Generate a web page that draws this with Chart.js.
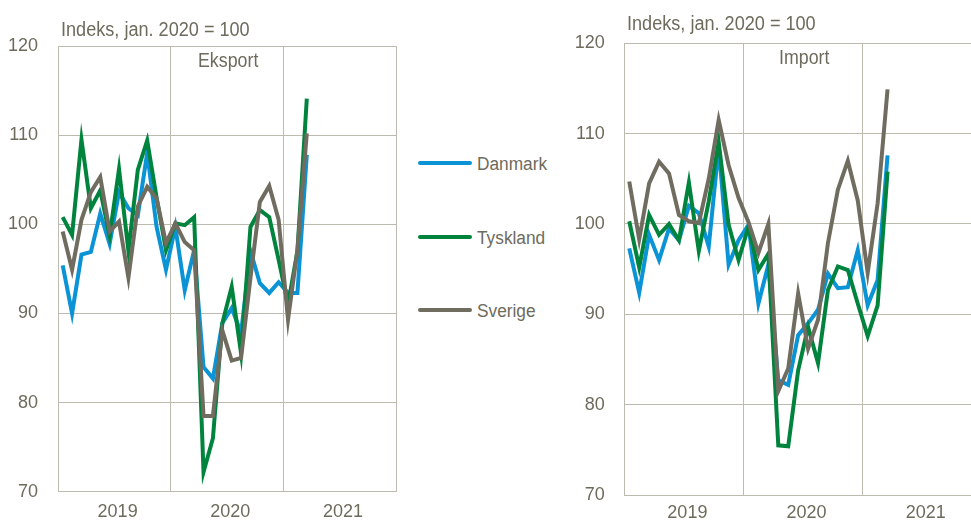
<!DOCTYPE html>
<html>
<head>
    <title>Eksport og import</title>
    <script src="https://cdn.jsdelivr.net/npm/chart.js"></script>
    <style>
        body {
            margin: 0;
            padding: 0;
            background-color: #fff;
            width: 971px;
            height: 522px;
            overflow: hidden;
            position: relative;
            font-family: 'Liberation Sans', Arial, sans-serif;
            color: #6e6b5d;
        }

        .panel {
            position: absolute;
            top: 0;
            height: 522px;
        }

        .txt {
            position: absolute;
            white-space: nowrap;
            font-size: 20px;
            line-height: 1;
            transform: scaleX(0.89);
            transform-origin: 0 0;
        }

        .leg-line {
            position: absolute;
            left: 418px;
            width: 54px;
            height: 4px;
            border-radius: 2px;
        }

        .leg-txt {
            position: absolute;
            left: 477px;
            font-size: 18px;
            line-height: 1;
            white-space: nowrap;
            transform: scaleX(0.96);
            transform-origin: 0 0;
        }
    </style>
</head>
<body>
    <div class="panel" style="left:0; width:400px;"><canvas id="eksportChart"></canvas></div>
    <div class="panel" style="left:560px; width:411px;"><canvas id="importChart"></canvas></div>

    <div class="txt" style="left:61px; top:18.8px; transform: scaleX(0.905);">Indeks, jan. 2020 = 100</div>
    <div class="txt" style="left:198px; top:49.8px;">Eksport</div>
    <div class="txt" style="left:627px; top:13.1px; transform: scaleX(0.905);">Indeks, jan. 2020 = 100</div>
    <div class="txt" style="left:779px; top:47.1px;">Import</div>

    <div id="legend"></div>

    <script>
        // maaneder jan. 2019 - mar. 2021
        var maaneder = ['2019-01', '2019-02', '2019-03', '2019-04', '2019-05', '2019-06', '2019-07', '2019-08', '2019-09',
            '2019-10', '2019-11', '2019-12', '2020-01', '2020-02', '2020-03', '2020-04', '2020-05', '2020-06',
            '2020-07', '2020-08', '2020-09', '2020-10', '2020-11', '2020-12', '2021-01', '2021-02', '2021-03'];
        var aar = ['2019', '2020', '2021'];
        var yTicks = [70, 80, 90, 100, 110, 120];

        var eksportDanmark = [95.4, 90.0, 96.6, 96.9, 101.2, 97.8, 103.6, 101.8, 101.0, 108.0, 99.7, 94.9, 99.7, 92.6,
            97.1, 84.0, 82.7, 88.9, 90.6, 87.8, 97.0, 93.4, 92.3, 93.5, 92.3, 92.3, 107.8];
        var eksportTyskland = [100.8, 98.8, 109.5, 101.8, 103.8, 98.7, 106.2, 97.0, 106.1, 109.4, 103.0, 97.1, 100.1, 99.9,
            100.8, 72.2, 76.0, 88.9, 93.0, 85.5, 99.7, 101.6, 100.8, 96.0, 91.0, 97.0, 114.1];
        var eksportSverige = [99.2, 94.9, 100.5, 103.6, 105.3, 99.2, 100.3, 94.0, 102.0, 104.2, 102.9, 97.9, 100.1, 98.0,
            97.1, 78.5, 78.5, 88.1, 84.7, 85.0, 94.0, 102.5, 104.3, 100.5, 89.3, 97.1, 110.2];

        var importDanmark = [97.3, 92.4, 98.8, 96.0, 99.5, 98.2, 102.0, 101.2, 97.5, 108.5, 95.5, 98.2, 99.9, 91.2,
            95.5, 82.7, 82.2, 87.7, 89.0, 90.5, 94.5, 92.9, 93.0, 97.1, 91.0, 93.8, 107.6];
        var importTyskland = [100.3, 95.2, 101.0, 98.8, 100.0, 98.2, 104.6, 97.0, 102.5, 109.1, 99.9, 96.0, 99.7, 94.9,
            96.7, 75.5, 75.4, 83.8, 88.6, 84.6, 92.7, 95.3, 94.9, 91.2, 87.6, 91.0, 105.8];
        var importSverige = [104.7, 98.3, 104.5, 106.9, 105.6, 101.0, 100.3, 100.1, 105.0, 111.5, 106.5, 102.9, 100.2, 96.8,
            100.0, 81.5, 84.0, 92.3, 86.2, 89.4, 97.9, 103.8, 107.0, 102.6, 94.6, 102.3, 114.9];

        var lande = ['Danmark', 'Tyskland', 'Sverige'];
        var farver = ['#0a93d5', '#00843d', '#706c5f'];
        var tekstFarve = '#6e6b5d';
        var gitterFarve = '#bdbbaf';
        var fontNavn = "'Liberation Sans', Arial, sans-serif";

        function punkter(vaerdier) {
            return vaerdier.map(function (v, i) {
                return { x: i + 0.5, y: v };
            });
        }

        function lavGraf(id, serier, opsaet) {
            var ctx = document.getElementById(id).getContext('2d');
            return new Chart(ctx, {
                type: 'line',
                data: {
                    datasets: serier.map(function (s, i) {
                        return {
                            label: lande[i],
                            data: punkter(s),
                            borderColor: farver[i],
                            borderWidth: 4,
                            pointRadius: 0,
                            tension: 0,
                            fill: false,
                            order: 3 - i
                        };
                    })
                },
                options: {
                    responsive: true,
                    maintainAspectRatio: false,
                    animation: false,
                    layout: {
                        padding: { left: 0, top: opsaet.top, right: opsaet.right, bottom: 0 }
                    },
                    plugins: {
                        legend: { display: false },
                        tooltip: { enabled: false }
                    },
                    scales: {
                        x: {
                            type: 'linear',
                            min: 0,
                            max: opsaet.xMax,
                            afterBuildTicks: function (scale) {
                                // gitterlinjer ved aarsskift, aarstal midt i aaret
                                var t = [];
                                for (var v = 0; v <= opsaet.xMax; v += 12) {
                                    t.push({ value: v });
                                    if (v + 6 < opsaet.xMax) t.push({ value: v + 6.35 });
                                }
                                scale.ticks = t;
                            },
                            afterFit: function (scale) {
                                scale.height = opsaet.xHeight;
                                scale.paddingLeft = 0;
                                scale.paddingRight = 0;
                            },
                            grid: {
                                color: function (c) {
                                    return c.tick && c.tick.value % 12 === 0 ? gitterFarve : 'rgba(0,0,0,0)';
                                },
                                lineWidth: 1,
                                drawTicks: false
                            },
                            border: { color: gitterFarve, width: 1 },
                            ticks: {
                                autoSkip: false,
                                maxRotation: 0,
                                padding: opsaet.xPad,
                                color: tekstFarve,
                                font: { family: fontNavn, size: 18 },
                                callback: function (v) {
                                    if (v % 12 !== 0) return aar[Math.floor(v / 12)];
                                    return '';
                                }
                            }
                        },
                        y: {
                            min: yTicks[0],
                            max: yTicks[yTicks.length - 1],
                            afterBuildTicks: function (scale) {
                                scale.ticks = yTicks.map(function (v) { return { value: v }; });
                            },
                            afterFit: function (scale) {
                                scale.width = opsaet.yWidth;
                                scale.paddingTop = 0;
                                scale.paddingBottom = 0;
                            },
                            grid: {
                                color: gitterFarve,
                                lineWidth: 1,
                                drawTicks: false
                            },
                            border: { color: gitterFarve, width: 1 },
                            ticks: {
                                padding: opsaet.yPad,
                                color: tekstFarve,
                                font: { family: fontNavn, size: 18 }
                            }
                        }
                    }
                }
            });
        }

        lavGraf('eksportChart', [eksportDanmark, eksportTyskland, eksportSverige],
            { top: 46, right: 4, xMax: 36, xHeight: 30.3, yWidth: 58, xPad: 10, yPad: 20 });
        lavGraf('importChart', [importDanmark, importTyskland, importSverige],
            { top: 43.3, right: 0, xMax: 34.9, xHeight: 27, yWidth: 64.3, xPad: 7, yPad: 19.5 });

        // forklaring midt mellem graferne
        var legLinjeTop = [161.3, 234.7, 308];
        var legTekstTop = [154.8, 228.8, 301.5];
        var html = '';
        lande.forEach(function (navn, i) {
            html += '<div class="leg-line" style="top:' + legLinjeTop[i] + 'px; background:' + farver[i] + ';"></div>' +
                '<div class="leg-txt" style="top:' + legTekstTop[i] + 'px;">' + navn + '</div>';
        });
        document.getElementById('legend').innerHTML = html;
    </script>
</body>
</html>
